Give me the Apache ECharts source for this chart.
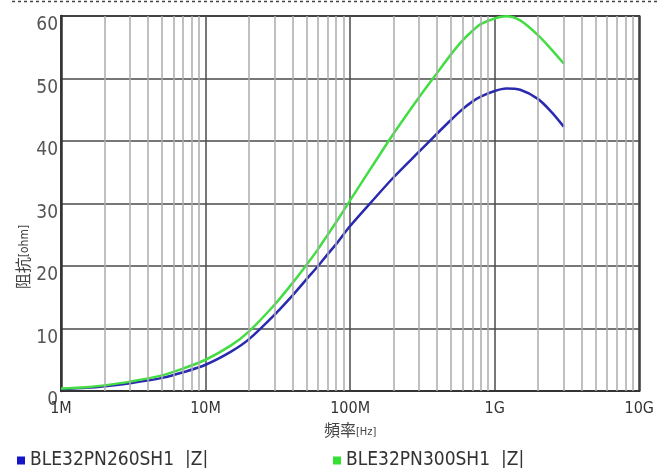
<!DOCTYPE html>
<html>
<head>
<meta charset="utf-8">
<script src="https://cdn.jsdelivr.net/npm/echarts@6/dist/echarts.min.js"></script>
<style>
html,body{margin:0;padding:0;background:#fff;}
#c{width:657px;height:468px;}
</style>
</head>
<body>
<div id="c"></div>
<script>
// Frequency points [Hz]
var freqs = [1e6, 1.5e6, 2e6, 3e6, 5e6, 7e6, 1e7, 1.5e7, 2e7, 3e7, 4e7, 5e7, 6e7, 7e7, 8e7, 1e8, 1.5e8, 2e8, 3e8, 4e8, 5e8, 6e8, 7e8, 8e8, 1e9, 1.2e9, 1.5e9, 2e9, 2.5e9, 3e9];
// |Z| [ohm]
var blueZ  = [0.3, 0.5, 0.75, 1.25, 2.1, 3.0, 4.2, 6.3, 8.3, 12.2, 15.3, 17.9, 20.0, 21.9, 23.5, 26.4, 31.0, 34.2, 38.3, 41.2, 43.4, 45.1, 46.3, 47.1, 48.0, 48.4, 48.2, 46.7, 44.5, 42.3];
var greenZ = [0.4, 0.6, 0.9, 1.5, 2.5, 3.6, 5.0, 7.3, 9.55, 13.8, 17.3, 20.2, 22.7, 25.0, 27.0, 30.5, 36.8, 41.2, 47.0, 50.9, 53.9, 56.1, 57.6, 58.7, 59.6, 59.95, 59.3, 56.9, 54.5, 52.4];
var seriesNames = ['BLE32PN260SH1  |Z|', 'BLE32PN300SH1  |Z|'];
var decadeLabels = {1e6: '1M', 1e7: '10M', 1e8: '100M', 1e9: '1G', 1e10: '10G'};
var yTicks = [0, 10, 20, 30, 40, 50, 60];

var FONT = "'Liberation Sans Narrow', 'DejaVu Sans Condensed', 'Noto Sans CJK JP', sans-serif";

function pairs(xs, ys) { return xs.map(function (x, i) { return [x, ys[i]]; }); }

// minor vertical grid lines at 2..9 x each decade
var minorLines = [];
[1e6, 1e7, 1e8, 1e9].forEach(function (d) {
  for (var k = 2; k <= 9; k++) minorLines.push({ xAxis: d * k });
});

var chart = echarts.init(document.getElementById('c'), null, { renderer: 'canvas' });
chart.setOption({
  backgroundColor: '#fff',
  animation: false,
  grid: { left: 61, right: 16, top: 16, bottom: 77, show: true, borderColor: '#333', borderWidth: 2, containLabel: false },
  xAxis: {
    type: 'log', logBase: 10, min: 1e6, max: 1e10,
    name: '{a|頻率}{b|[Hz]}', nameLocation: 'middle', nameGap: 33,
    nameTextStyle: { rich: { a: { fontSize: 16, color: '#444', fontFamily: FONT }, b: { fontSize: 11, color: '#444', fontFamily: FONT } } },
    axisLine: { show: true, lineStyle: { color: '#333', width: 2 } },
    axisTick: { show: false },
    axisLabel: {
      margin: 10, fontSize: 16, color: '#333', fontFamily: FONT,
      formatter: function (v) { return decadeLabels[Math.round(v)] || ''; }
    },
    splitLine: { show: true, lineStyle: { color: '#4a4a4a', width: 1.5 } },
    minorTick: { show: false }
  },
  yAxis: {
    type: 'value', min: 0, max: 60, interval: 10,
    axisLine: { show: true, lineStyle: { color: '#333', width: 2.5 } },
    axisTick: { show: false },
    axisLabel: { margin: 3, fontSize: 19, color: '#555', fontFamily: FONT, verticalAlign: 'top',
      formatter: function (v) { return yTicks.indexOf(v) >= 0 ? String(v) : ''; } },
    splitLine: { show: true, lineStyle: { color: '#4a4a4a', width: 1.5 } }
  },
  legend: [
    { data: [seriesNames[0]], left: 12, top: 446, icon: 'rect', itemWidth: 8, itemHeight: 8,
      textStyle: { fontSize: 19, color: '#333', fontFamily: FONT }, selectedMode: false },
    { data: [seriesNames[1]], left: 328, top: 446, icon: 'rect', itemWidth: 8, itemHeight: 8,
      textStyle: { fontSize: 19, color: '#333', fontFamily: FONT }, selectedMode: false }
  ],
  graphic: [
    { type: 'line', shape: { x1: 12, y1: 1.5, x2: 657, y2: 1.5 }, style: { stroke: '#444', lineWidth: 1.5, lineDash: [3, 3] }, silent: true },
    { type: 'text', x: 25, y: 257, rotation: Math.PI / 2, silent: true,
      style: { text: '{a|阻抗}{b|[ohm]}', align: 'center', verticalAlign: 'middle',
        rich: { a: { fontSize: 16, fill: '#444', fontFamily: FONT }, b: { fontSize: 12, fill: '#444', fontFamily: FONT } } } }
  ],
  series: [
    { type: 'line', name: 'minor', data: [], z: 1, silent: true,
      markLine: { silent: true, symbol: ['none', 'none'], label: { show: false },
        lineStyle: { color: '#ababab', width: 1.5, type: 'solid' }, emphasis: { disabled: true }, data: minorLines } },
    { type: 'line', name: seriesNames[0], data: pairs(freqs, blueZ), smooth: 0.3, showSymbol: false,
      itemStyle: { color: '#1515c8' }, lineStyle: { color: '#2a2ab0', width: 2.5 }, z: 3 },
    { type: 'line', name: seriesNames[1], data: pairs(freqs, greenZ), smooth: 0.3, showSymbol: false,
      itemStyle: { color: '#33e033' }, lineStyle: { color: '#44dd44', width: 2.5 }, z: 4 }
  ]
});
</script>
</body>
</html>
